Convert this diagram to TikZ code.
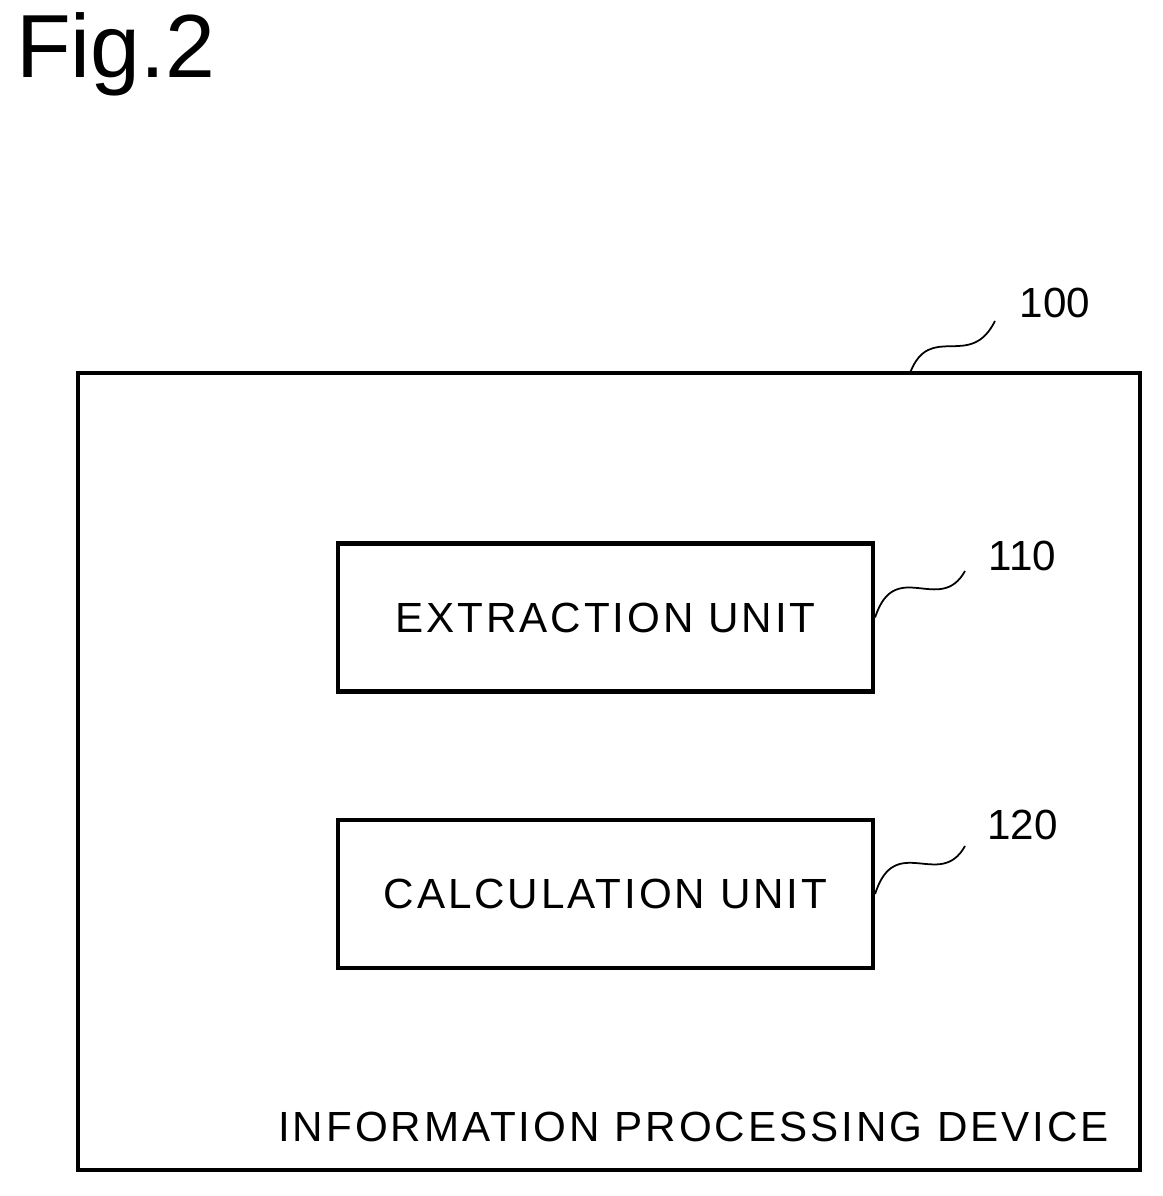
\documentclass[tikz,border=0pt]{standalone}
\usepackage{fontspec}
\setmainfont{Liberation Sans}
\newfontfamily\spacedfont[LetterSpace=7]{Liberation Sans}
\usetikzlibrary{positioning}
\tikzset{unit/.style={draw, line width=2.4pt, minimum width=10.7cm, minimum height=2.96cm, font=\spacedfont\fontsize{24}{28}\selectfont},
         lbl/.style={font=\fontsize{24}{28}\selectfont},
         lead/.style={line width=1pt}}
\begin{document}
\begin{tikzpicture}
\useasboundingbox (0,0) rectangle (23.26,23.92);
\node[anchor=north west, font=\fontsize{51}{58}\selectfont] (fig) at (0.2,23.8) {Fig.2};

\node[draw, line width=2.4pt, minimum width=21.24cm, minimum height=15.94cm] (dev) at (12.18,8.49) {};
\node[lbl, font=\spacedfont\fontsize{24}{28}\selectfont, anchor=south east] (devname) at (22.3,0.95) {INFORMATION PROCESSING DEVICE};

\node[unit] (ext) at (12.11,11.57) {EXTRACTION UNIT};
\node[unit] (calc) at (12.11,6.04) {CALCULATION UNIT};

\node[lbl] (n100) at (21.1,17.86) {100};
\node[lbl] (n110) at (20.45,12.8) {110};
\node[lbl] (n120) at (20.45,7.42) {120};

\coordinate (c100) at (19.9,17.5);
\coordinate (c110) at (19.3,12.5);
\coordinate (c120) at (19.3,7.0);

% leader lines
\draw[lead] (18.2,16.46) .. controls (18.6,17.5) and (19.4,16.5) .. (c100);
\draw[lead] (ext.east) .. controls (17.9,12.8) and (18.8,11.6) .. (c110);
\draw[lead] (calc.east) .. controls (17.9,7.3) and (18.8,6.1) .. (c120);
\end{tikzpicture}
\end{document}
